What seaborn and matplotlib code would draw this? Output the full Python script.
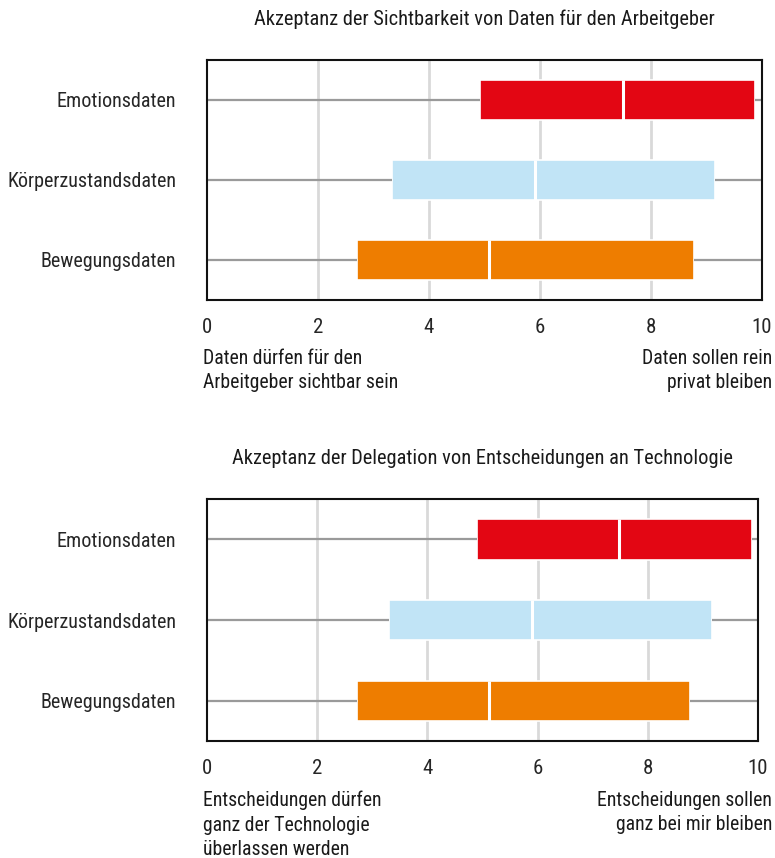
import matplotlib
matplotlib.use("Agg")
import matplotlib.pyplot as plt
import seaborn as sns
import pandas as pd

categories = ["Emotionsdaten", "Körperzustandsdaten", "Bewegungsdaten"]

# five-number summaries (min, Q1, median, Q3, max)
top_min = [0, 0, 0]
top_q1 = [4.92, 3.33, 2.71]
top_med = [7.49, 5.91, 5.09]
top_q3 = [9.88, 9.16, 8.78]
top_max = [10, 10, 10]

bot_min = [0, 0, 0]
bot_q1 = [4.90, 3.30, 2.72]
bot_med = [7.48, 5.89, 5.12]
bot_q3 = [9.89, 9.16, 8.77]
bot_max = [10, 10, 10]

x_ticks = [0, 2, 4, 6, 8, 10]

top_title = "Akzeptanz der Sichtbarkeit von Daten für den Arbeitgeber"
bot_title = "Akzeptanz der Delegation von Entscheidungen an Technologie"
top_left_note = "Daten dürfen für den\nArbeitgeber sichtbar sein"
top_right_note = "Daten sollen rein\nprivat bleiben"
bot_left_note = "Entscheidungen dürfen\nganz der Technologie\nüberlassen werden"
bot_right_note = "Entscheidungen sollen\nganz bei mir bleiben"

colors = ["#E30613", "#C1E4F6", "#EE7D00"]

sns.set_theme(style="white")
FONT = ["Roboto Condensed", "DejaVu Sans"]
plt.rcParams["font.family"] = FONT
plt.rcParams["text.color"] = "#1a1a1a"

FS = 14.5
NOTE_FS = 14.2


def long_frame(mins, q1, med, q3, maxs):
    rows = []
    for c, a, b, m, d, e in zip(categories, mins, q1, med, q3, maxs):
        for v in (a, b, m, d, e):
            rows.append({"Kategorie": c, "Wert": v})
    return pd.DataFrame(rows)


fig = plt.figure(figsize=(7.75, 8.58), dpi=100)
W, H = 775, 858


def px_axes(left, top, right, bottom):
    return fig.add_axes([left / W, 1 - bottom / H, (right - left) / W, (bottom - top) / H])


def draw(ax, df, title):
    ax.set_axisbelow(True)
    for t in x_ticks[1:-1]:
        ax.axvline(t, color="#d9d9d9", lw=2, zorder=0)
    sns.boxplot(
        data=df, x="Wert", y="Kategorie", hue="Kategorie", order=categories,
        hue_order=categories, palette=colors, legend=False, ax=ax,
        width=0.5, whis=(0, 100), showfliers=False, showcaps=False,
        saturation=1, dodge=False,
        boxprops=dict(edgecolor="white", linewidth=1.2),
        medianprops=dict(color="white", linewidth=2.2),
        whiskerprops=dict(color="#9a9a9a", linewidth=1.6),
    )
    ax.set_xlim(0, 10)
    ax.set_ylim(2.5, -0.5)
    ax.set_xticks(x_ticks)
    ax.set_xticklabels([str(t) for t in x_ticks])
    ax.set_xlabel("")
    ax.set_ylabel("")
    ax.tick_params(axis="x", length=0, pad=13, labelsize=FS + 0.5)
    ax.tick_params(axis="y", length=0, pad=22, labelsize=FS)
    for s in ax.spines.values():
        s.set_visible(True)
        s.set_color("#111111")
        s.set_linewidth(1.5)
    ax.set_title(title, fontsize=FS + 0.2, pad=25)


ax1 = px_axes(207, 60, 762, 300)
draw(ax1, long_frame(top_min, top_q1, top_med, top_q3, top_max), top_title)

ax2 = px_axes(207, 499, 758, 741)
draw(ax2, long_frame(bot_min, bot_q1, bot_med, bot_q3, bot_max), bot_title)

LS = 1.34
fig.text(203 / W, 1 - 349 / H, top_left_note, ha="left", va="top", fontsize=NOTE_FS, linespacing=LS)
fig.text(772 / W, 1 - 349 / H, top_right_note, ha="right", va="top", fontsize=NOTE_FS, linespacing=LS)
fig.text(203 / W, 1 - 791 / H, bot_left_note, ha="left", va="top", fontsize=NOTE_FS, linespacing=LS)
fig.text(772 / W, 1 - 791 / H, bot_right_note, ha="right", va="top", fontsize=NOTE_FS, linespacing=LS)

fig.savefig("out.png", dpi=100, facecolor="white")
